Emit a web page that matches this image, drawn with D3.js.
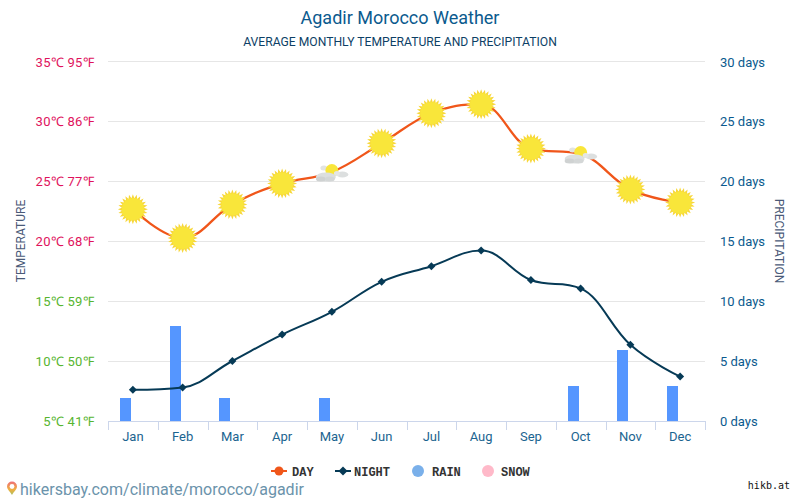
<!DOCTYPE html>
<html><head><meta charset="utf-8">
<style>
html,body{margin:0;padding:0;background:#fff}
svg{display:block}
text{font-family:Roboto,sans-serif}
</style>
<script src="https://cdn.jsdelivr.net/npm/d3@7/dist/d3.min.js"></script>
</head><body>
<svg id="chart" width="800" height="500"></svg>
<script>
const months=["Jan","Feb","Mar","Apr","May","Jun","Jul","Aug","Sep","Oct","Nov","Dec"];
const dayTemps=[22.65,20.25,23.05,24.8,25.75,28.15,30.65,31.4,27.7,27.25,24.3,23.2];
const nightTemps=[7.6,7.8,10,12.2,14.1,16.6,17.9,19.2,16.75,16.05,11.35,8.7];
const rainDays=[2,8,2,0,2,0,0,0,0,3,6,3];
const weatherIcons=["sun","sun","sun","sun","cloud","sun","sun","sun","sun","cloud","sun","sun"];
const tempTicks=[5,10,15,20,25,30,35];
const tempLabels=["5℃ 41℉","10℃ 50℉","15℃ 59℉","20℃ 68℉","25℃ 77℉","30℃ 86℉","35℃ 95℉"];
const dayTicks=[0,5,10,15,20,25,30];
const legendItems=["DAY","NIGHT","RAIN","SNOW"];

const svg=d3.select("#chart");
const x=d3.scaleBand().domain(months).range([108,705]);
const yT=d3.scaleLinear().domain([5,35]).range([421,61]);
const yD=d3.scaleLinear().domain([0,30]).range([421,61]);
const cx=m=>x(m)+x.bandwidth()/2;

// Spline through the points with smoothed control handles that flatten at local extremes
function smoothCurve(context){
  let pts=[];
  return {
    areaStart(){},areaEnd(){},
    lineStart(){pts=[];},
    point(a,b){pts.push([+a,+b]);},
    lineEnd(){
      const s=1.5,d=s+1;
      const handles=pts.map((p,i)=>{
        if(i===0||i===pts.length-1)return null;
        const l=pts[i-1],n=pts[i+1];
        const lx=(s*p[0]+l[0])/d,ly=(s*p[1]+l[1])/d;
        const rx=(s*p[0]+n[0])/d,ry=(s*p[1]+n[1])/d;
        const c=(ry-ly)*(rx-p[0])/(rx-lx)+p[1]-ry;
        let h={lx,ly:ly+c,rx,ry:ry+c};
        if(h.ly>l[1]&&h.ly>p[1]){h.ly=Math.max(l[1],p[1]);h.ry=2*p[1]-h.ly;}
        else if(h.ly<l[1]&&h.ly<p[1]){h.ly=Math.min(l[1],p[1]);h.ry=2*p[1]-h.ly;}
        if(h.ry>n[1]&&h.ry>p[1]){h.ry=Math.max(n[1],p[1]);h.ly=2*p[1]-h.ry;}
        else if(h.ry<n[1]&&h.ry<p[1]){h.ry=Math.min(n[1],p[1]);h.ly=2*p[1]-h.ry;}
        return h;
      });
      pts.forEach((p,i)=>{
        if(i===0){context.moveTo(p[0],p[1]);return;}
        const a=handles[i-1]||{rx:pts[i-1][0],ry:pts[i-1][1]};
        const b=handles[i]||{lx:p[0],ly:p[1]};
        context.bezierCurveTo(a.rx,a.ry,b.lx,b.ly,p[0],p[1]);
      });
    }
  };
}

// Header
svg.append("text").attr("x",400).attr("y",24).attr("text-anchor","middle")
  .attr("font-size",18).attr("fill","#0b5a8e").text("Agadir Morocco Weather");
svg.append("text").attr("x",400).attr("y",46).attr("text-anchor","middle")
  .attr("font-size",12.15).attr("fill","#0d3f66").text("AVERAGE MONTHLY TEMPERATURE AND PRECIPITATION");

// Horizontal grid
svg.append("g").selectAll("line").data(tempTicks.slice(1)).join("line")
  .attr("x1",108).attr("x2",705).attr("y1",d=>yT(d)+.5).attr("y2",d=>yT(d)+.5)
  .attr("stroke","#e6e6e6");

// Month axis
const xAxis=d3.axisBottom(x).tickSize(0).tickPadding(11);
const gx=svg.append("g").attr("transform","translate(0,421)").call(xAxis);
gx.select(".domain").attr("stroke","#ccd6eb").attr("d","M108,.5H705");
gx.selectAll("text").attr("font-size",13).attr("fill","#1b6490").attr("font-family","Roboto,sans-serif");
svg.append("g").selectAll("line").data(months.concat(["end"])).join("line")
  .attr("x1",(d,i)=>Math.round(108+i*x.bandwidth())+.5)
  .attr("x2",(d,i)=>Math.round(108+i*x.bandwidth())+.5)
  .attr("y1",421).attr("y2",430).attr("stroke","#ccd6eb");

// Temperature axis
svg.append("g").selectAll("text").data(tempTicks).join("text")
  .attr("x",94).attr("y",d=>yT(d)+(d===35?6:5)).attr("text-anchor","end").attr("font-size",13)
  .attr("letter-spacing",.28)
  .attr("fill",d=>d>=20?"#e0125c":"#57b52f").text((d,i)=>tempLabels[i]);

// Precipitation axis
svg.append("g").selectAll("text").data(dayTicks).join("text")
  .attr("x",720).attr("y",d=>yD(d)+(d===30?6:5)).attr("font-size",13)
  .attr("fill","#0b5a8e").text(d=>d+" days");

svg.append("text").attr("transform","translate(25,241) rotate(-90)").attr("text-anchor","middle")
  .attr("font-size",12).attr("fill","#4a5a78").text("TEMPERATURE");
svg.append("text").attr("transform","translate(775,241) rotate(90)").attr("text-anchor","middle")
  .attr("font-size",12).attr("fill","#4a5a78").text("PRECIPITATION");

// Rain bars
svg.append("g").selectAll("rect").data(months).join("rect")
  .attr("x",m=>Math.round(cx(m)-13)).attr("width",11)
  .attr("y",(m,i)=>yD(rainDays[i])+1).attr("height",(m,i)=>Math.max(0,yD(0)-yD(rainDays[i])-1))
  .attr("fill","#5596ff");

// Temperature lines
const line=d3.line().x((d,i)=>cx(months[i])).y(d=>yT(d)).curve(smoothCurve);
svg.append("path").attr("d",line(dayTemps)).attr("fill","none").attr("stroke","#f0561a").attr("stroke-width",2.3);
svg.append("path").attr("d",line(nightTemps)).attr("fill","none").attr("stroke","#063a56").attr("stroke-width",2);

// Night markers
svg.append("g").selectAll("path").data(nightTemps).join("path")
  .attr("transform",(d,i)=>`translate(${cx(months[i])},${yT(d)})`)
  .attr("d","M0,-4L4,0L0,4L-4,0Z").attr("fill","#063a56");

// Spiky sun outline
function sunPath(r1,r2,n){
  const pts=d3.range(n*2).map(i=>{
    const a=i*Math.PI/n,r=i%2?r2:r1;
    return [r*Math.sin(a),-r*Math.cos(a)];
  });
  return d3.line()(pts)+"Z";
}
function drawSun(g,r){
  g.append("path").attr("d",sunPath(r,r*.74,24)).attr("fill","#f7d73a");
  g.append("circle").attr("r",r*.74).attr("fill","#f9e63a");
}
function drawCloud(g){
  const puff=(cxv,cyv,rx,ry,fill)=>g.append("ellipse").attr("cx",cxv).attr("cy",cyv).attr("rx",rx).attr("ry",ry).attr("fill",fill);
  puff(-8,-4,3.5,2.5,"#e2e4e2");
  g.append("circle").attr("cy",-1.5).attr("r",6.5).attr("fill","#f9e63a");
  puff(10.5,2.5,6,3,"#dcdfdf");
  puff(5,1.5,3,2.5,"#e4e6e6");
  puff(-6,5,10,4.5,"#dcdfdf");
  puff(-11,7,5,2.5,"#cfd2d2");
  puff(-2,7,5,2.5,"#d4d7d7");
}
months.forEach((m,i)=>{
  const g=svg.append("g").attr("transform",`translate(${cx(m)},${yT(dayTemps[i])})`);
  if(weatherIcons[i]==="sun")drawSun(g,15); else drawCloud(g);
});

// Legend
const legendX=[271,335,412,482];
const legendText=[292,354,432,501];
const legend=svg.append("g");
legendItems.forEach((name,i)=>{
  const lx=legendX[i],ly=471;
  if(i<2){
    legend.append("line").attr("x1",lx).attr("x2",lx+16).attr("y1",ly).attr("y2",ly)
      .attr("stroke",i?"#063a56":"#f0561a").attr("stroke-width",2);
    if(i)legend.append("path").attr("transform",`translate(${lx+8},${ly})`).attr("d","M0,-4.5L4.5,0L0,4.5L-4.5,0Z").attr("fill","#063a56");
    else legend.append("circle").attr("cx",lx+8).attr("cy",ly).attr("r",4.5).attr("fill","#f0561a");
  } else {
    legend.append("circle").attr("cx",lx+6).attr("cy",ly).attr("r",6).attr("fill",i===2?"#7ab0ea":"#ffb9c9");
  }
  legend.append("text").attr("x",legendText[i]).attr("y",ly+4.5)
    .attr("font-size",12).attr("font-weight","bold").attr("fill","#333")
    .style("font-family","'Liberation Mono',monospace").text(name);
});

// Footer
const pinFill=svg.append("defs").append("linearGradient").attr("id","pinFill")
  .attr("x1",0).attr("y1",0).attr("x2",0).attr("y2",1);
pinFill.append("stop").attr("offset",0).attr("stop-color","#ee7078");
pinFill.append("stop").attr("offset",.6).attr("stop-color","#f0b040");
pinFill.append("stop").attr("offset",1).attr("stop-color","#a8c060");
const pin=svg.append("g").attr("transform","translate(12,487)");
pin.append("path").attr("d","M0,8C-2,4.5 -5,2.5 -5,-.5A5,5 0 1 1 5,-.5C5,2.5 2,4.5 0,8Z").attr("fill","url(#pinFill)");
pin.append("circle").attr("cy",-.5).attr("r",2.4).attr("fill","#fff");
svg.append("text").attr("x",20).attr("y",495).attr("font-size",16.05).attr("fill","#6b93ab")
  .text("hikersbay.com/climate/morocco/agadir");
svg.append("text").attr("x",790).attr("y",489).attr("text-anchor","end").attr("font-size",10).attr("fill","#111")
  .style("font-family","'DejaVu Sans Mono',monospace").text("hikb.at");
</script>
</body></html>
